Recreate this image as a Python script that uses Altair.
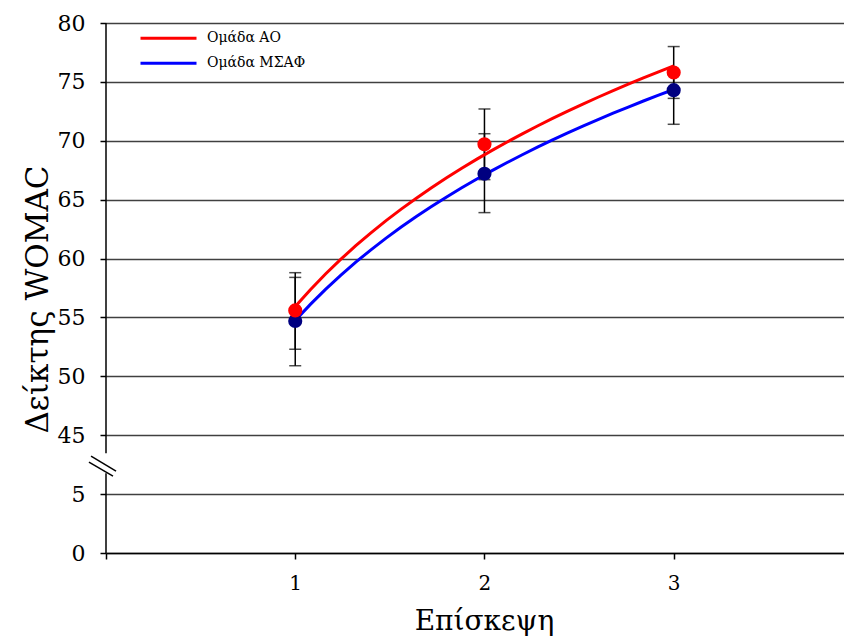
import altair as alt
import pandas as pd

# ---- data ----
visits = [1, 2, 3]
groups = ["Ομάδα ΑΟ", "Ομάδα ΜΣΑΦ"]
ao_mean = [55.6, 69.7, 75.8]
ao_low = [52.3, 66.7, 73.6]
ao_high = [58.8, 72.7, 78.0]
msaf_mean = [54.7, 67.2, 74.3]
msaf_low = [50.9, 63.9, 71.4]
msaf_high = [58.4, 70.6, 75.6]

y_ticks = [0, 5, 45, 50, 55, 60, 65, 70, 75, 80]
x_ticks = [0, 1, 2, 3]

# axis line pieces (broken axis) and break marks, in data units
axis_top = [80, 32.8]
axis_bottom = [19.2, 0]
break_x = [-0.079, -0.090]
break_x2 = [0.053, 0.037]
break_y = [30.8, 26.7]
break_y2 = [20.6, 17.2]

rows = []
for g, m, lo, hi in [(groups[0], ao_mean, ao_low, ao_high),
                     (groups[1], msaf_mean, msaf_low, msaf_high)]:
    for v, mm, l, h in zip(visits, m, lo, hi):
        rows.append({"group": g, "visit": v, "mean": mm, "low": l, "high": h})
df = pd.DataFrame(rows)

axis_df = pd.DataFrame({"x": [0, 0], "y": [axis_top[0], axis_bottom[0]],
                        "y2": [axis_top[1], axis_bottom[1]]})
break_df = pd.DataFrame({"x": break_x, "x2": break_x2, "y": break_y, "y2": break_y2})

FONT = "DejaVu Serif"
W, H = 738, 530
slot = H / 9.0
y_scale = alt.Scale(domain=[0, 5, 45, 80], range=[H, H - slot, H - 2 * slot, 0],
                    nice=False, zero=False)
x_scale = alt.Scale(domain=[0, 3.9], nice=False, zero=False)

X_TITLE = "Επίσκεψη"
Y_TITLE = "Δείκτης WOMAC"

x_axis = alt.Axis(values=x_ticks, format="d",
                  labelExpr="datum.value == 0 ? '' : datum.label",
                  grid=False, domain=True, domainColor="black", domainWidth=1.5,
                  ticks=True, tickSize=6, tickColor="black", tickWidth=1.5,
                  labelFont=FONT, labelFontSize=20, labelColor="black", labelPadding=14,
                  titleFont=FONT, titleFontSize=28, titleFontWeight="normal",
                  titleColor="black", titlePadding=14, titleX=378)
y_axis = alt.Axis(values=y_ticks, format="d", grid=True, gridColor="#404040", gridWidth=1.5,
                  domain=False, ticks=True, tickSize=6, tickColor="black", tickWidth=1.5,
                  labelFont=FONT, labelFontSize=22, labelColor="black", labelPadding=15,
                  titleFont=FONT, titleFontSize=31, titleFontWeight="normal",
                  titleColor="black", titlePadding=3, titleY=276)

base = alt.Chart(df)

errbars = base.mark_rule(color="black", strokeWidth=1.5).encode(
    x=alt.X("visit:Q", scale=x_scale, axis=x_axis, title=X_TITLE),
    y=alt.Y("low:Q", scale=y_scale, axis=y_axis, title=Y_TITLE),
    y2="high:Q",
)

caps = base.transform_fold(["low", "high"], as_=["end", "val"]).mark_tick(
    orient="horizontal", size=12, thickness=1.5, color="black"
).encode(
    x=alt.X("visit:Q", scale=x_scale, title=X_TITLE),
    y=alt.Y("val:Q", scale=y_scale, title=Y_TITLE),
)

lines = base.transform_regression(
    "visit", "mean", method="log", groupby=["group"]
).mark_line(strokeWidth=3).encode(
    x=alt.X("visit:Q", scale=x_scale, title=X_TITLE),
    y=alt.Y("mean:Q", scale=y_scale, title=Y_TITLE),
    color=alt.Color("group:N", scale=alt.Scale(domain=groups, range=["#ff0000", "#0000ff"]),
                    legend=alt.Legend(title=None, orient="none", legendX=33, legendY=3,
                                      symbolType="stroke", symbolSize=3136,
                                      symbolStrokeWidth=3, labelFont=FONT,
                                      labelFontSize=14, labelColor="black",
                                      labelOffset=9, clipHeight=24.5, rowPadding=0,
                                      padding=0)),
)

points_msaf = base.transform_filter(alt.datum.group == groups[1]).mark_circle(
    size=200, opacity=1, color="#000080"
).encode(
    x=alt.X("visit:Q", scale=x_scale, title=X_TITLE),
    y=alt.Y("mean:Q", scale=y_scale, title=Y_TITLE),
)
points_ao = base.transform_filter(alt.datum.group == groups[0]).mark_circle(
    size=200, opacity=1, color="#ff0000"
).encode(
    x=alt.X("visit:Q", scale=x_scale, title=X_TITLE),
    y=alt.Y("mean:Q", scale=y_scale, title=Y_TITLE),
)

axis_line = alt.Chart(axis_df).mark_rule(color="black", strokeWidth=1.5).encode(
    x=alt.X("x:Q", scale=x_scale, title=X_TITLE),
    y=alt.Y("y:Q", scale=y_scale, title=Y_TITLE),
    y2="y2:Q",
)

break_marks = alt.Chart(break_df).mark_rule(color="black", strokeWidth=1.5).encode(
    x=alt.X("x:Q", scale=x_scale, title=X_TITLE),
    x2="x2:Q",
    y=alt.Y("y:Q", scale=y_scale, title=Y_TITLE),
    y2="y2:Q",
)

chart = alt.layer(errbars, caps, lines, points_msaf, points_ao, axis_line, break_marks).properties(
    width=W, height=H,
    padding={"left": 98, "top": 15, "right": 0, "bottom": 90},
    autosize="none",
    background="white",
).configure(font=FONT).configure_view(stroke=None)

chart.save("out.html", embed_options={"renderer": "svg", "actions": False})
